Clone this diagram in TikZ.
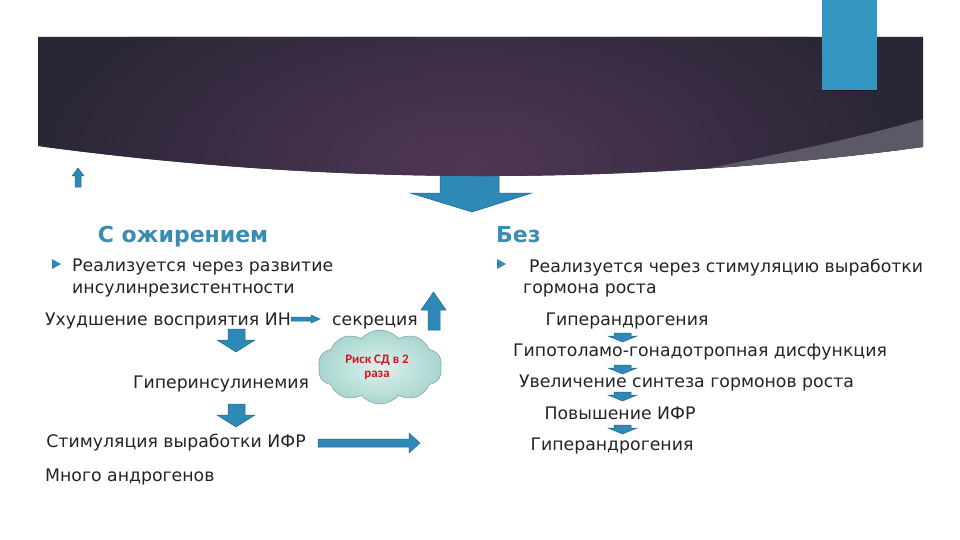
\documentclass[tikz,border=0pt]{standalone}
\usepackage{fontspec}
\setmainfont{DejaVu Sans}
\newfontfamily\cloudfont{Carlito}
\usetikzlibrary{shapes.symbols}
\definecolor{arrowblue}{RGB}{47,137,182}
\definecolor{arrowedge}{RGB}{32,104,142}
\definecolor{headblue}{RGB}{58,140,180}
\definecolor{txt}{RGB}{35,35,35}
\definecolor{darkedge}{RGB}{42,38,55}
\definecolor{darkmid}{RGB}{80,55,84}
\definecolor{wedgegray}{RGB}{92,88,102}
\definecolor{barblue}{RGB}{50,150,192}
\definecolor{cloudin}{RGB}{222,241,237}
\definecolor{cloudout}{RGB}{168,214,207}
\definecolor{cloudedge}{RGB}{128,168,163}
\definecolor{riskred}{RGB}{212,18,30}
\begin{document}
\begin{tikzpicture}[x=1pt,y=-1pt,
  body/.style={font=\fontsize{17.3}{20}\selectfont, text=txt, inner sep=0pt},
  headtxt/.style={font=\fontsize{22}{26}\selectfont\bfseries, text=headblue, inner sep=0pt},
  blockarrow/.style={fill=arrowblue, draw=arrowedge, line width=0.5pt, line join=miter},
  bulletmark/.style={fill=arrowblue}]
\useasboundingbox (0,0) rectangle (960,540);

% big down arrow (under the banner)
\path[blockarrow] (440,170) -- (499,170) -- (499,193) -- (532,193) -- (472,212) -- (410,193) -- (440,193) -- cycle;

% banner
\begin{scope}
  \clip (38,37) -- (923,37) -- (923,147) .. controls (627.7,186) and (332.7,185.7) .. (38,146) -- cycle;
  \fill[darkedge] (0,0) rectangle (960,240);
  \shade[inner color=darkmid, outer color=darkedge] (470,165) ellipse (430 and 210);
  \fill[wedgegray] (923,119) .. controls (850,140) and (770,156) .. (650,180) -- (960,190) -- (960,119) -- cycle;
\end{scope}

% blue bar at top right
\fill[barblue] (822,0) rectangle (877,90);
\draw[darkedge!70!black, line width=1.5pt] (822,90.5) -- (877,90.5);

% small up arrow at left
\path[blockarrow] (75,187) -- (75,176) -- (72,176) -- (78,168) -- (84,176) -- (81,176) -- (81,187) -- cycle;

% headings
\node[headtxt, anchor=base] (hleft) at (183,242) {С ожирением};
\node[headtxt, anchor=base west] (hright) at (496,242) {Без};

% bullets
\fill[bulletmark] (52,259) -- (61,264) -- (52,269) -- cycle;
\fill[bulletmark] (497,259) -- (506,264) -- (497,269) -- cycle;

% left column
\node[body, anchor=base west] (l1) at (72,271) {Реализуется через развитие};
\node[body, anchor=base west] (l2) at (72,293) {инсулинрезистентности};
\node[body, anchor=base west] (l3) at (45,325) {Ухудшение восприятия ИН};
\node[body, anchor=base] (l4) at (375,325) {секреция};
\node[body, anchor=base] (l5) at (221,388) {Гиперинсулинемия};
\node[body, anchor=base] (l6) at (176,447) {Стимуляция выработки ИФР};
\node[body, anchor=base west] (l7) at (45,481) {Много андрогенов};

% left arrows
\path[blockarrow] (291,317) -- (311,317) -- (311,315) -- (320,319) -- (311,323) -- (311,321) -- (291,321) -- cycle;
\path[blockarrow] (428,330) -- (428,310) -- (421,310) -- (433.5,292) -- (446,310) -- (440,310) -- (440,330) -- cycle;
\path[blockarrow] (228,329) -- (245,329) -- (245,340) -- (255,340) -- (236,352) -- (217,340) -- (228,340) -- cycle;
\path[blockarrow] (228,404) -- (245,404) -- (245,415) -- (255,415) -- (236,427) -- (217,415) -- (228,415) -- cycle;
\path[blockarrow] (318,439) -- (409,439) -- (409,433) -- (420,443) -- (409,453) -- (409,447) -- (318,447) -- cycle;

% cloud
\node[cloud, cloud puffs=10, cloud puff arc=100, aspect=1.7, minimum width=124pt, minimum height=74pt,
      inner color=cloudin, outer color=cloudout, draw=cloudedge, line width=0.6pt] (risk) at (380,367) {};
\node[font=\cloudfont\fontsize{13}{14}\selectfont\bfseries, text=riskred, align=center, inner sep=0pt] (risktxt) at (377,367) {Риск СД в 2\\раза};

% right column
\node[body, anchor=base west] (r1) at (529,272) {Реализуется через стимуляцию выработки};
\node[body, anchor=base west] (r2) at (523,293) {гормона роста};
\node[body, anchor=base] (r3) at (627,325) {Гиперандрогения};
\node[body, anchor=base] (r4) at (700,356) {Гипотоламо-гонадотропная дисфункция};
\node[body, anchor=base] (r5) at (686.5,387) {Увеличение синтеза гормонов роста};
\node[body, anchor=base] (r6) at (620,419) {Повышение ИФР};
\node[body, anchor=base] (r7) at (612,450) {Гиперандрогения};

% right small arrows
\foreach \t in {333,365,392,425} {
  \path[blockarrow] (614,\t) -- (631,\t) -- (631,\t+3) -- (637,\t+3) -- (622.5,\t+9) -- (608,\t+3) -- (614,\t+3) -- cycle;
}
\end{tikzpicture}
\end{document}
